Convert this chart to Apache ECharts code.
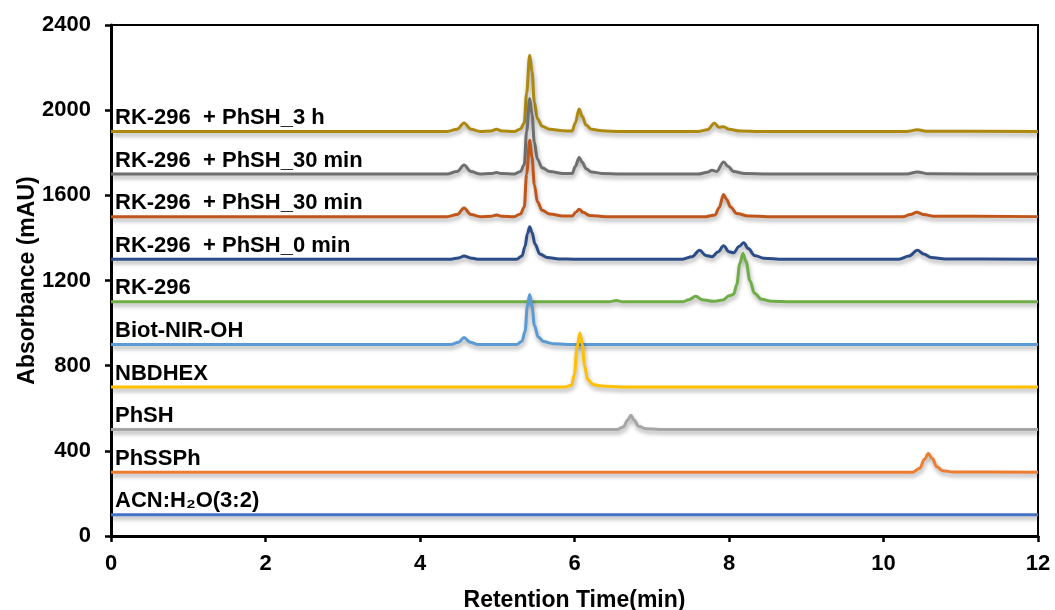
<!DOCTYPE html>
<html>
<head>
<meta charset="utf-8">
<script src="https://cdn.jsdelivr.net/npm/echarts@6/dist/echarts.min.js"></script>
<style>html,body{margin:0;padding:0;background:#fff}#c{width:1055px;height:610px}</style>
</head>
<body>
<div id="c"></div>
<script>
// Series names (top to bottom) and their baselines (mAU)
var seriesNames = ['RK-296  + PhSH_3 h','RK-296  + PhSH_30 min','RK-296  + PhSH_30 min','RK-296  + PhSH_0 min','RK-296','Biot-NIR-OH','NBDHEX','PhSH','PhSSPh','ACN:H\u2082O(3:2)'];
var baselines = [1900,1700,1500,1300,1100,900,700,500,300,100];
var colors = ['#AD890E','#6F6F6F','#C0561A','#2B4C86','#6FAD47','#5B9BD5','#FFC000','#A5A5A5','#ED7D31','#4472C4'];
var xTicks = [0,2,4,6,8,10,12];
var yTicks = [0,400,800,1200,1600,2000,2400];

var s3h = [[0,1900],[4.35,1900],[4.48,1910],[4.57,1940],[4.66,1910],[4.78,1900],[4.92,1902],[4.99,1910],[5.06,1902],[5.22,1900],[5.30,1912],[5.35,1940],[5.38,2080],[5.42,2258],[5.45,2180],[5.48,2040],[5.52,1960],[5.58,1925],[5.68,1910],[5.85,1903],[5.97,1902],[6.01,1940],[6.06,2005],[6.10,1970],[6.15,1930],[6.22,1910],[6.35,1903],[6.6,1900],[7.6,1900],[7.72,1908],[7.81,1938],[7.87,1920],[7.93,1922],[8.0,1910],[8.15,1902],[8.4,1900],[10.3,1900],[10.44,1908],[10.55,1901],[12,1900]];
var s30a = [[0,1700],[4.35,1700],[4.48,1712],[4.57,1742],[4.66,1712],[4.78,1700],[4.92,1702],[4.99,1707],[5.06,1702],[5.22,1700],[5.30,1712],[5.35,1745],[5.38,1900],[5.42,2055],[5.45,1980],[5.48,1850],[5.52,1770],[5.58,1730],[5.68,1712],[5.85,1703],[5.97,1702],[6.01,1735],[6.06,1778],[6.10,1755],[6.15,1725],[6.22,1710],[6.35,1703],[6.6,1700],[7.6,1700],[7.72,1708],[7.78,1718],[7.84,1712],[7.93,1757],[7.99,1735],[8.06,1712],[8.2,1703],[8.5,1700],[10.3,1700],[10.44,1710],[10.58,1701],[12,1700]];
var s30b = [[0,1500],[4.35,1500],[4.48,1510],[4.57,1540],[4.66,1510],[4.78,1500],[4.92,1502],[4.99,1508],[5.06,1502],[5.22,1500],[5.30,1512],[5.35,1545],[5.38,1700],[5.42,1859],[5.45,1780],[5.48,1650],[5.52,1570],[5.58,1530],[5.68,1512],[5.85,1503],[5.97,1503],[6.02,1522],[6.06,1535],[6.11,1520],[6.2,1505],[6.4,1500],[7.7,1500],[7.82,1508],[7.87,1540],[7.93,1604],[7.97,1580],[8.02,1545],[8.1,1515],[8.25,1503],[8.5,1500],[10.25,1500],[10.35,1510],[10.43,1520],[10.52,1510],[10.65,1502],[12,1500]];
var s0 = [[0,1300],[4.4,1300],[4.5,1306],[4.57,1315],[4.65,1306],[4.75,1300],[5.25,1300],[5.32,1315],[5.36,1360],[5.39,1420],[5.42,1452],[5.45,1425],[5.49,1370],[5.55,1325],[5.65,1308],[5.8,1301],[6.0,1300],[7.4,1300],[7.52,1312],[7.62,1342],[7.7,1318],[7.78,1312],[7.86,1335],[7.93,1363],[8.0,1335],[8.06,1330],[8.13,1360],[8.19,1377],[8.25,1350],[8.33,1318],[8.45,1305],[8.7,1300],[10.2,1300],[10.33,1315],[10.44,1342],[10.52,1325],[10.62,1308],[10.8,1301],[12,1300]];
var sRK = [[0,1100],[6.45,1100],[6.54,1106],[6.62,1100],[7.4,1100],[7.48,1110],[7.57,1126],[7.65,1110],[7.8,1102],[7.92,1108],[8.0,1128],[8.06,1135],[8.1,1180],[8.14,1280],[8.18,1328],[8.22,1290],[8.27,1200],[8.33,1140],[8.42,1112],[8.55,1103],[8.8,1100],[12,1100]];
var sBiot = [[0,900],[4.4,900],[4.5,910],[4.57,932],[4.65,910],[4.75,900],[5.25,900],[5.32,915],[5.36,960],[5.39,1080],[5.42,1134],[5.45,1080],[5.48,990],[5.53,935],[5.6,913],[5.72,903],[5.9,900],[12,900]];
var sNBD = [[0,700],[5.88,700],[5.96,708],[6.0,760],[6.03,880],[6.07,954],[6.1,900],[6.13,800],[6.17,735],[6.24,712],[6.35,704],[6.6,700],[12,700]];
var sPhSH = [[0,500],[6.55,500],[6.63,512],[6.69,545],[6.73,567],[6.77,545],[6.83,515],[6.92,504],[7.1,500],[12,500]];
var sPhSSPh = [[0,300],[10.38,300],[10.47,318],[10.53,360],[10.58,387],[10.63,365],[10.69,325],[10.77,306],[10.9,301],[12,300]];
var sACN = [[0,100],[12,100]];

var allData = [s3h,s30a,s30b,s0,sRK,sBiot,sNBD,sPhSH,sPhSSPh,sACN];
var labelOffset = 63; // label centre above baseline, in mAU

var FONT = 'Liberation Sans, Arial, sans-serif';
var chart = echarts.init(document.getElementById('c'));
var series = allData.map(function(d,i){
  return {
    type:'line', name: seriesNames[i], data:d, showSymbol:false, symbol:'none',
    smooth:0.35, smoothMonotone:'x', z: 2 + i,
    lineStyle:{color:colors[i], width:3, shadowColor:'rgba(0,0,0,0.35)', shadowBlur:4, shadowOffsetX:1, shadowOffsetY:3},
    emphasis:{disabled:true}
  };
});
series.push({
  type:'scatter', symbolSize:0, z:30, silent:true,
  itemStyle:{opacity:1},
  data: seriesNames.map(function(n,i){ return {value:[0, baselines[i]+labelOffset], name:n}; }),
  label:{show:true, position:'right', distance:4, formatter:function(p){return p.name;},
    color:'#000', opacity:1, textBorderWidth:0, fontFamily:FONT, fontWeight:'bold', fontSize:22}
});

chart.setOption({
  animation:false,
  backgroundColor:'#fff',
  grid:{left:111, right:17, top:25, bottom:74, containLabel:false, outerBoundsMode:'none',
    show:true, borderColor:'#000', borderWidth:2, backgroundColor:'transparent'},
  xAxis:{type:'value', min:0, max:12, interval:2,
    name:'Retention Time(min)', nameLocation:'middle', nameGap:53, nameMoveOverlap:false,
    nameTextStyle:{fontFamily:FONT, fontWeight:'bold', fontSize:23, color:'#000'},
    axisLine:{show:true, lineStyle:{color:'#000', width:3}},
    axisTick:{show:true, inside:false, length:6, lineStyle:{color:'#000', width:2.5}},
    axisLabel:{margin:17, color:'#000', fontFamily:FONT, fontWeight:'bold', fontSize:22,
      formatter:function(v){ return xTicks.indexOf(v)>=0 ? String(v) : ''; }},
    splitLine:{show:false}},
  yAxis:{type:'value', min:0, max:2400, interval:400,
    name:'Absorbance (mAU)', nameLocation:'middle', nameGap:72, nameMoveOverlap:false,
    nameTextStyle:{fontFamily:FONT, fontWeight:'bold', fontSize:23, color:'#000'},
    axisLine:{show:true, lineStyle:{color:'#000', width:3}},
    axisTick:{show:true, inside:false, length:6, lineStyle:{color:'#000', width:2.5}},
    axisLabel:{margin:20, color:'#000', fontFamily:FONT, fontWeight:'bold', fontSize:22,
      formatter:function(v){ return yTicks.indexOf(v)>=0 ? String(v) : ''; }},
    splitLine:{show:false}},
  series:series
});
</script>
</body>
</html>
